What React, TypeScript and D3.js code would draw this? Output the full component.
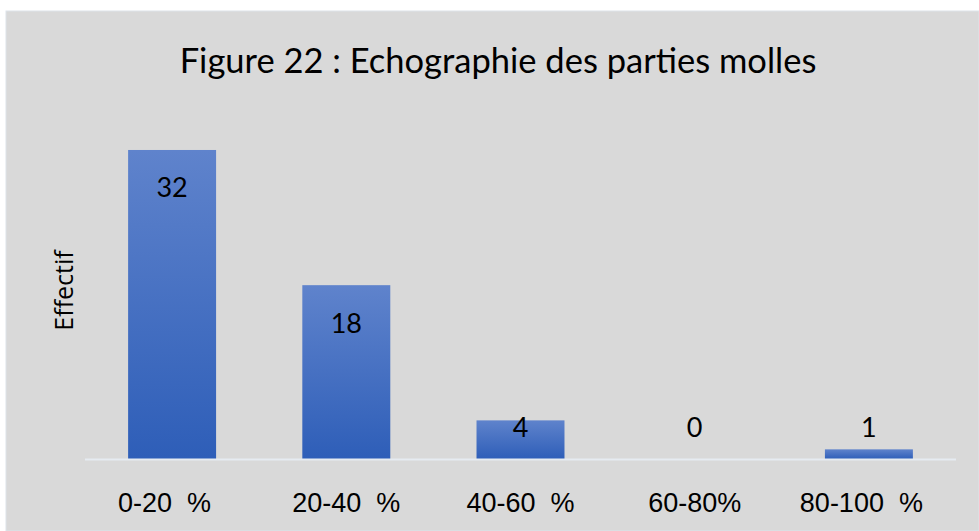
import * as d3 from "d3";

const categories = ["0-20  %  ", "20-40  %", "40-60  %", "60-80%", "80-100  %  "];
const values = [32, 18, 4, 0, 1];
const title = "Figure 22 : Echographie des parties molles";
const yTitle = "Effectif";

const W = 979;
const H = 531;

export default function App() {
  const baseline = 459;
  const x = d3.scaleBand().domain(categories).range([85, 956]).paddingInner(0.495).paddingOuter(0.2475);
  const y = d3.scaleLinear().domain([0, 35]).range([baseline, 121]);

  return (
    <svg
      width={W}
      height={H}
      style={{ position: "absolute", left: 0, top: 0, background: "#fff" }}
    >
      <defs>
        <linearGradient id="bar" x1="0" y1="0" x2="0" y2="1">
          <stop offset="0%" stopColor="#5f83cc" />
          <stop offset="100%" stopColor="#2e5eb8" />
        </linearGradient>
      </defs>
      {/* panel */}
      <rect x={6} y={11} width={W - 6} height={H - 11} fill="#d9d9d9" stroke="#dde3ea" />

      <text
        x={498}
        y={73}
        textAnchor="middle"
        fontFamily="Lato, 'Open Sans', sans-serif"
        fontSize={34.5}
        fill="#000"
      >
        {title}
      </text>

      <text
        transform={`translate(73,290.5) rotate(-90)`}
        textAnchor="middle"
        fontFamily="'Open Sans', sans-serif"
        fontSize={25}
        fill="#000"
      >
        {yTitle}
      </text>

      {/* bars */}
      {values.map((v, i) => {
        const c = categories[i];
        const top = y(v);
        return v > 0 ? (
          <rect
            key={c}
            x={x(c)}
            y={top}
            width={x.bandwidth()}
            height={baseline - top}
            fill="url(#bar)"
          />
        ) : null;
      })}

      {/* axis line */}
      <line x1={85} x2={956} y1={baseline + 0.5} y2={baseline + 0.5} stroke="#e6ebf1" strokeWidth={2} />

      {/* value labels */}
      {values.map((v, i) => {
        const c = categories[i];
        const cy = Math.min(y(v) + 38, baseline - 31);
        return (
          <text
            key={c}
            x={(x(c) ?? 0) + x.bandwidth() / 2}
            y={cy}
            dy="0.35em"
            textAnchor="middle"
            fontFamily="Lato, 'Open Sans', sans-serif"
            fontSize={27}
            fill="#000"
          >
            {v}
          </text>
        );
      })}

      {/* category labels */}
      {categories.map((c) => (
        <text
          key={c}
          x={(x(c) ?? 0) + x.bandwidth() / 2}
          y={512}
          textAnchor="middle"
          fontFamily="'Liberation Sans', Arial, sans-serif"
          fontSize={27}
          fill="#000"
          style={{ whiteSpace: "pre" }}
        >
          {c}
        </text>
      ))}
    </svg>
  );
}
